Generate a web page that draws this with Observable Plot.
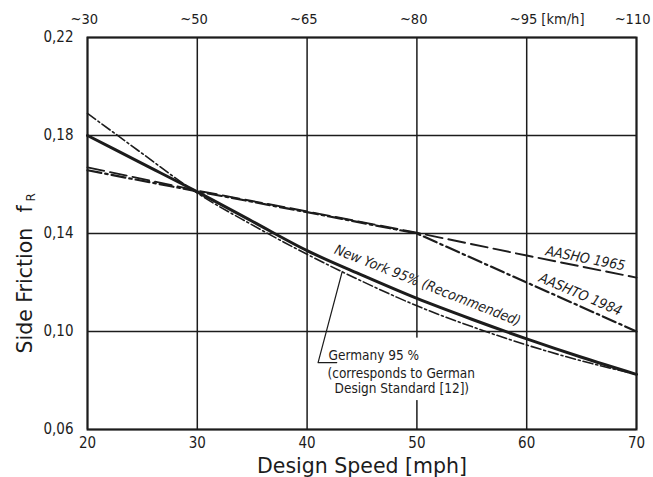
<!DOCTYPE html>
<html>
<head>
<meta charset="utf-8">
<script src="https://cdn.jsdelivr.net/npm/d3@7"></script>
<script src="https://cdn.jsdelivr.net/npm/@observablehq/plot@0.6"></script>
<style>
  html, body { margin: 0; padding: 0; background: #fff; }
  svg { display: block; }
</style>
</head>
<body>
<div id="chart"></div>
<script>
// ---- data ----
const speedsMph   = [20, 25, 30, 35, 40, 45, 50, 55, 60, 65, 70];
const newYork95   = [0.180, 0.1685, 0.157, 0.145, 0.133, 0.123, 0.1135, 0.105, 0.097, 0.0895, 0.0825];
const germanySpeeds = [20, 25, 29, 30, 35, 40, 45, 50, 55, 60, 65, 70];
const germany95     = [0.189, 0.1726, 0.1595, 0.1565, 0.1435, 0.1315, 0.1205, 0.1105, 0.102, 0.0945, 0.088, 0.0825];
const aashoSpeeds = [20, 30, 40, 50, 60, 70];
const aasho1965   = [0.1670, 0.1575, 0.1490, 0.1403, 0.1310, 0.1220];
const aashto1984  = [0.1658, 0.1572, 0.1487, 0.1400, 0.1200, 0.1000];

const xTicks    = [20, 30, 40, 50, 60, 70];
const yTicks    = [0.06, 0.10, 0.14, 0.18, 0.22];
const kmhLabels = ["~30", "~50", "~65", "~80", "~95 [km/h]", "~110"];

// curve labels (text, anchor speed, anchor friction, angle)
const curveLabelText  = ["AASHO 1965", "AASHTO 1984", "New York 95% (Recommended)"];
const curveLabelX     = [65.35, 64.9, 50.97];
const curveLabelY     = [0.1298, 0.1151, 0.1188];
const curveLabelAngle = [11, 23, 21.5];

// Germany note
const germanyNoteText = ["Germany 95 %", "(corresponds to German", "Design Standard [12])"];
const germanyNoteX    = [41.95, 41.86, 42.5];
const germanyNoteY    = [0.0882, 0.0812, 0.0751];
const leaderX = [43.2, 41.0, 42.7];
const leaderY = [0.1245, 0.0873, 0.0873];

// ---- build tables ----
const ny  = speedsMph.map((s, i) => ({speed: s, f: newYork95[i]}));
const ger = germanySpeeds.map((s, i) => ({speed: s, f: germany95[i]}));
const a65 = aashoSpeeds.map((s, i) => ({speed: s, f: aasho1965[i]}));
const a84 = aashoSpeeds.map((s, i) => ({speed: s, f: aashto1984[i]}));
const labels = curveLabelText.map((t, i) => ({t, x: curveLabelX[i], y: curveLabelY[i], a: curveLabelAngle[i]}));
const note = germanyNoteText.map((t, i) => ({t, x: germanyNoteX[i], y: germanyNoteY[i]}));
const leader = leaderX.map((x, i) => ({x, y: leaderY[i]}));
const topLabels = xTicks.map((x, i) => ({x, t: kmhLabels[i]}));
const topInner = topLabels.slice(0, -1);
const topLast = topLabels.slice(-1);

const ink = "#1c1c1c";
const fontC = "'DejaVu Sans Condensed', 'DejaVu Sans', sans-serif";
const fontR = "'DejaVu Sans', sans-serif";

const chart = Plot.plot({
  width: 653,
  height: 477,
  marginLeft: 87,
  marginRight: 17,
  marginTop: 37,
  marginBottom: 48,
  x: {domain: [20, 70]},
  y: {domain: [0.06, 0.22]},
  style: {fontFamily: fontC, color: ink, background: "white"},
  marks: [
    Plot.gridX(xTicks, {stroke: ink, strokeOpacity: 1, strokeWidth: 1.5}),
    Plot.gridY(yTicks, {stroke: ink, strokeOpacity: 1, strokeWidth: 1.5}),
    // white patch behind the Germany note (gridline interrupted there)
    Plot.rect([0], {x1: 49.6, x2: 50.4, y1: 0.0718, y2: 0.0973, fill: "white"}),
    Plot.frame({stroke: ink, strokeWidth: 2}),
    Plot.axisX(xTicks, {tickSize: 0, tickPadding: 8, fontSize: 15, label: null, fill: ink}),
    Plot.axisY(yTicks, {tickSize: 0, tickPadding: 14, fontSize: 15, label: null, fill: ink,
      tickFormat: d => d.toFixed(2).replace(".", ",")}),
    // top km/h scale
    Plot.text(topInner, {x: "x", frameAnchor: "top", text: "t",
      textAnchor: "start", lineAnchor: "bottom", dx: -17, dy: -14, fontSize: 14.5, fill: ink}),
    Plot.text(topLast, {x: "x", frameAnchor: "top", text: "t",
      textAnchor: "end", lineAnchor: "bottom", dx: 14, dy: -14, fontSize: 14.5, fill: ink}),
    // curves
    Plot.line(a65, {x: "speed", y: "f", stroke: ink, strokeWidth: 1.9, strokeDasharray: "17,6"}),
    Plot.line(a84, {x: "speed", y: "f", stroke: ink, strokeWidth: 2.2, strokeDasharray: "14,4,2.5,4"}),
    Plot.line(ger, {x: "speed", y: "f", curve: "monotone-x", stroke: ink, strokeWidth: 1.6, strokeDasharray: "10,3,2,3"}),
    Plot.line(ny,  {x: "speed", y: "f", curve: "monotone-x", stroke: ink, strokeWidth: 3}),
    // curve labels
    Plot.text(labels, {x: "x", y: "y", text: "t", rotate: "a", fontSize: 14, fontStyle: "italic",
      textAnchor: "middle", lineAnchor: "middle", fill: ink}),
    // Germany leader + note
    Plot.line(leader, {x: "x", y: "y", stroke: ink, strokeWidth: 1.2}),
    Plot.text(note, {x: "x", y: "y", text: "t", fontSize: 13.5, textAnchor: "start", lineAnchor: "bottom", fill: ink}),
    // axis titles
    Plot.text(["Design Speed [mph]"], {frameAnchor: "bottom", text: d => d, fontSize: 20.5,
      fontFamily: fontR, lineAnchor: "bottom", dy: 43, fill: ink}),
    Plot.text(["Side Friction"], {x: 20, y: 0.0910, text: d => d, rotate: -90, fontSize: 20.5,
      fontFamily: fontR, textAnchor: "start", lineAnchor: "bottom", dx: -56, fill: ink}),
    Plot.text(["f"], {x: 20, y: 0.1486, text: d => d, rotate: -90, fontSize: 20.5,
      fontFamily: fontR, textAnchor: "start", lineAnchor: "bottom", dx: -56, fill: ink}),
    Plot.text(["R"], {x: 20, y: 0.1531, text: d => d, rotate: -90, fontSize: 12,
      fontFamily: fontR, textAnchor: "start", lineAnchor: "bottom", dx: -53, fill: ink})
  ]
});
document.getElementById("chart").appendChild(chart);
</script>
</body>
</html>
